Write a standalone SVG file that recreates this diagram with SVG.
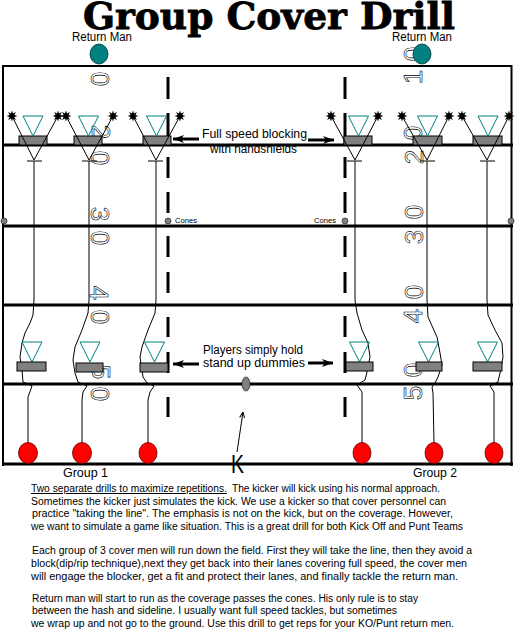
<svg xmlns="http://www.w3.org/2000/svg" width="515" height="631" viewBox="0 0 515 631">
<style>
.fl{stroke:#000;stroke-width:3;fill:none}
.fo{stroke:#000;stroke-width:2;fill:none}
.ln{stroke:#000;stroke-width:1;fill:none}
.tri{fill:none;stroke:#008080;stroke-width:1}
.blk{fill:#808080;stroke:#000;stroke-width:1}
.red{fill:#ff0000;stroke:#600;stroke-width:0.8}
.teal{fill:#008080;stroke:#033;stroke-width:0.8}
.cone{fill:#808080;stroke:#333;stroke-width:0.8}
.num{font-family:"Liberation Sans",Arial,sans-serif;font-size:26px;fill:#fff;stroke:#000;stroke-width:0.6;text-anchor:middle;dominant-baseline:central}
.lab{font-family:"Liberation Sans",Arial,sans-serif;font-size:12px;fill:#000}
.p{font-family:"Liberation Sans",Arial,sans-serif;font-size:10px;fill:#000}
.dash{stroke:#000;stroke-width:3;fill:none}
.arr{stroke:#000;stroke-width:3;marker-end:url(#ah)}
</style>
<defs>
<marker id="ah" viewBox="0 0 11 8" refX="11" refY="4" markerWidth="11" markerHeight="8" markerUnits="userSpaceOnUse" orient="auto"><path d="M0,0 L11,4 L0,8 L3,4 Z" fill="#000"/></marker>
<marker id="ka" viewBox="0 0 6 6" refX="6" refY="3" markerWidth="6" markerHeight="6" markerUnits="userSpaceOnUse" orient="auto"><path d="M0,0.5 L6,3 L0,5.5" fill="none" stroke="#000" stroke-width="1"/></marker>
<polygon id="star" points="5.5,0 2.4,1 3.9,3.9 1,2.4 0,5.5 -1,2.4 -3.9,3.9 -2.4,1 -5.5,0 -2.4,-1 -3.9,-3.9 -1,-2.4 0,-5.5 1,-2.4 3.9,-3.9 2.4,-1" fill="#000"/>
</defs>
<rect width="515" height="631" fill="#fff"/>

<text x="83" y="29" font-family="DejaVu Serif, Liberation Serif, serif" font-weight="bold" font-size="37" stroke="#000" stroke-width="0.8" textLength="372" lengthAdjust="spacingAndGlyphs">Group Cover Drill</text>

<g id="field">
<path class="fo" d="M3,66 H512 M3,65 V466 M511.5,65 V466"/>
<path class="fl" d="M2,145 H513 M2,226 H513 M2,305 H513 M2,384 H513 M2,464 H513"/>
<path class="dash" d="M168,77 V99 M168,113 V137 M168,157 V178 M168,192 V213 M168,236 V257 M168,272 V293 M168,317 V337 M168,352 V373 M168,397 V417"/>
<path class="dash" d="M345,77 V99 M345,113 V145 M345,157 V178 M345,192 V213 M345,236 V257 M345,272 V293 M345,316 V337 M345,352 V373 M345,397 V417"/>
</g>

<g id="yard-numbers">
<text class="num" transform="translate(100,79) rotate(90)">0</text>
<text class="num" transform="translate(101,132) rotate(90)">2</text>
<text class="num" transform="translate(100,158) rotate(90)">0</text>
<text class="num" transform="translate(100,214) rotate(90)">3</text>
<text class="num" transform="translate(100,238) rotate(90)">0</text>
<text class="num" transform="translate(99,293) rotate(90)">4</text>
<text class="num" transform="translate(100,317) rotate(90)">0</text>
<text class="num" transform="translate(101,372) rotate(90)">5</text>
<text class="num" transform="translate(100,394) rotate(90)">0</text>
<text class="num" transform="translate(413,54) rotate(-90)">0</text>
<text class="num" transform="translate(413,77) rotate(-90)">1</text>
<text class="num" transform="translate(413,133) rotate(-90)">0</text>
<text class="num" transform="translate(414,157) rotate(-90)">2</text>
<text class="num" transform="translate(414,212) rotate(-90)">0</text>
<text class="num" transform="translate(414,237) rotate(-90)">3</text>
<text class="num" transform="translate(414,292) rotate(-90)">0</text>
<text class="num" transform="translate(413,316) rotate(-90)">4</text>
<text class="num" transform="translate(413,370) rotate(-90)">0</text>
<text class="num" transform="translate(413,393) rotate(-90)">5</text>
</g>

<g id="connectors">
<path class="ln" d="M34,161 L34,300 L33,315 L30,323 L25,333 L22,343 L20,357 L22,370 L23,382 L32,386 L28,397 L28,443"/>
<path class="ln" d="M89,161 L89,300 L88,313 L82,330 L75,347 L73,360 L75,373 L78,382 L87,386 L83,392 L82,400 L82,443"/>
<path class="ln" d="M156,161 L156,300 L155,313 L148,330 L142,347 L140,357 L143,377 L147,383 L154,386 L150,392 L148,400 L148,443"/>
<path class="ln" d="M355,161 L355,300 L357,313 L362,330 L368,343 L370,357 L367,372 L365,380 L357,385 L362,392 L362,443"/>
<path class="ln" d="M427,161 L427,300 L428,317 L437,337 L440,353 L442,365 L438,377 L435,383 L432,387 L433,393 L434,443"/>
<path class="ln" d="M487,161 L487,300 L488,315 L495,330 L502,343 L503,357 L500,373 L498,382 L490,386 L494,392 L494,443"/>
<line class="arr" x1="199" y1="139" x2="173" y2="139"/>
<line class="arr" x1="308" y1="140" x2="334" y2="140"/>
<line class="arr" x1="199" y1="364" x2="173" y2="364"/>
<line class="arr" x1="308" y1="363" x2="333" y2="363"/>
<line class="ln" x1="237" y1="452" x2="243" y2="412" marker-end="url(#ka)"/>
</g>

<g id="return-man-1"><text class="lab" x="102" y="41" text-anchor="middle" textLength="60" lengthAdjust="spacingAndGlyphs">Return Man</text><ellipse class="teal" cx="99" cy="54" rx="9" ry="10"/></g>
<g id="return-man-2"><text class="lab" x="422" y="41" text-anchor="middle" textLength="60" lengthAdjust="spacingAndGlyphs">Return Man</text><ellipse class="teal" cx="422" cy="54" rx="9" ry="10"/></g>

<g id="blocker-top-1"><rect class="blk" x="19" y="136" width="28" height="9"/><polygon class="tri" points="23,116 43,116 33,136"/><path class="ln" d="M12,116 L34,160 L58,116 M27,161 H42"/><use href="#star" x="12" y="116"/><use href="#star" x="58" y="116"/></g>
<g id="blocker-top-2"><rect class="blk" x="74" y="136" width="28" height="9"/><polygon class="tri" points="78.5,116 98.5,116 88.5,136"/><path class="ln" d="M66,116 L89,160 L113,116 M82,161 H97"/><use href="#star" x="66" y="116"/><use href="#star" x="113" y="116"/></g>
<g id="blocker-top-3"><rect class="blk" x="143" y="136" width="28" height="9"/><polygon class="tri" points="146.5,116 166.5,116 156.5,136"/><path class="ln" d="M133,116 L156,160 L180,116 M148,161 H163"/><use href="#star" x="133" y="116"/><use href="#star" x="180" y="116"/></g>
<g id="blocker-top-4"><rect class="blk" x="344" y="136" width="28" height="9"/><polygon class="tri" points="348.5,116 368.5,116 358.5,136"/><path class="ln" d="M331,116 L355,160 L378,116 M347,161 H362"/><use href="#star" x="331" y="116"/><use href="#star" x="378" y="116"/></g>
<g id="blocker-top-5"><rect class="blk" x="413" y="136" width="29" height="9"/><polygon class="tri" points="417.5,116 437.5,116 427.5,136"/><path class="ln" d="M402,116 L427,160 L449,116 M420,161 H435"/><use href="#star" x="402" y="116"/><use href="#star" x="449" y="116"/></g>
<g id="blocker-top-6"><rect class="blk" x="473" y="136" width="29" height="9"/><polygon class="tri" points="478,116 498,116 488,136"/><path class="ln" d="M462,116 L487,160 L509,116 M480,161 H495"/><use href="#star" x="462" y="116"/><use href="#star" x="509" y="116"/></g>

<g id="dummy-1"><polygon class="tri" points="22,342 42,342 32,362"/><rect class="blk" x="17" y="362" width="29" height="9"/></g>
<g id="dummy-2"><polygon class="tri" points="80,342 100,342 90,362"/><rect class="blk" x="76" y="363" width="27" height="9"/></g>
<g id="dummy-3"><polygon class="tri" points="144.5,342 164.5,342 154.5,362"/><rect class="blk" x="140" y="363" width="28" height="9"/></g>
<g id="dummy-4"><polygon class="tri" points="349.5,342 369.5,342 359.5,362"/><rect class="blk" x="346" y="362" width="27" height="9"/></g>
<g id="dummy-5"><polygon class="tri" points="418.5,342 438.5,342 428.5,362"/><rect class="blk" x="416" y="362" width="26" height="9"/></g>
<g id="dummy-6"><polygon class="tri" points="477.5,342 497.5,342 487.5,362"/><rect class="blk" x="473" y="362" width="29" height="9"/></g>

<g id="cones">
<circle class="cone" cx="4" cy="221" r="3"/>
<circle class="cone" cx="168" cy="221" r="3"/>
<circle class="cone" cx="345" cy="221" r="3"/>
<circle class="cone" cx="511" cy="221" r="3"/>
<text x="175" y="223" font-family="Liberation Sans, Arial, sans-serif" font-size="7.5" textLength="22" lengthAdjust="spacingAndGlyphs">Cones</text>
<text x="314" y="223" font-family="Liberation Sans, Arial, sans-serif" font-size="7.5" textLength="22" lengthAdjust="spacingAndGlyphs">Cones</text>
</g>

<g id="cover-1"><ellipse class="red" cx="28" cy="453" rx="9.5" ry="10.5"/></g>
<g id="cover-2"><ellipse class="red" cx="82" cy="453" rx="9.5" ry="10.5"/></g>
<g id="cover-3"><ellipse class="red" cx="148" cy="453" rx="9" ry="10.5"/></g>
<g id="cover-4"><ellipse class="red" cx="362" cy="453" rx="9" ry="10.5"/></g>
<g id="cover-5"><ellipse class="red" cx="434" cy="453" rx="9" ry="10.5"/></g>
<g id="cover-6"><ellipse class="red" cx="494" cy="453" rx="9" ry="10.5"/></g>

<g id="kicker"><ellipse class="cone" cx="246" cy="384" rx="4" ry="7"/><text x="231" y="473" font-family="Liberation Sans, Arial, sans-serif" font-size="26" textLength="13" lengthAdjust="spacingAndGlyphs">K</text></g>

<g id="labels">
<text class="lab" x="202" y="138" textLength="105" lengthAdjust="spacingAndGlyphs">Full speed blocking</text>
<text class="lab" x="210" y="153" textLength="87" lengthAdjust="spacingAndGlyphs">with handshields</text>
<text class="lab" x="203" y="354" font-size="11.5" textLength="100" lengthAdjust="spacingAndGlyphs">Players simply hold</text>
<text class="lab" x="203" y="367" font-size="11.5" textLength="102" lengthAdjust="spacingAndGlyphs">stand up dummies</text>
<text class="lab" x="63" y="477" font-size="12.5" textLength="45" lengthAdjust="spacingAndGlyphs">Group 1</text>
<text class="lab" x="413" y="477" font-size="12.5" textLength="44" lengthAdjust="spacingAndGlyphs">Group 2</text>
</g>

<g id="notes">
<text class="p" x="31" y="492" textLength="196" lengthAdjust="spacingAndGlyphs" text-decoration="underline">Two separate drills to maximize repetitions.</text>
<text class="p" x="232" y="492" textLength="208" lengthAdjust="spacingAndGlyphs">The kicker will kick using his normal approach.</text>
<text class="p" x="31" y="505" textLength="415" lengthAdjust="spacingAndGlyphs">Sometimes the kicker just simulates the kick.   We use a kicker so that cover personnel can</text>
<text class="p" x="32" y="517" textLength="421" lengthAdjust="spacingAndGlyphs">practice "taking the line".    The emphasis is not on the kick, but on the coverage.  However,</text>
<text class="p" x="31" y="530" textLength="432" lengthAdjust="spacingAndGlyphs">we want to simulate a game like situation.  This is a great drill for both Kick Off and Punt Teams</text>
<text class="p" x="32" y="554" textLength="440" lengthAdjust="spacingAndGlyphs">Each group of 3 cover men will run down the field.  First they will take the line, then they avoid a</text>
<text class="p" x="31" y="567" textLength="436" lengthAdjust="spacingAndGlyphs">block(dip/rip technique),next they get back into their lanes covering full speed, the cover men</text>
<text class="p" x="31" y="580" textLength="427" lengthAdjust="spacingAndGlyphs">will engage the blocker, get a fit and protect their lanes, and finally tackle the return man.</text>
<text class="p" x="32" y="602" textLength="386" lengthAdjust="spacingAndGlyphs">Return man will start to run as the coverage passes the cones.  His only rule is to stay</text>
<text class="p" x="32" y="614" textLength="365" lengthAdjust="spacingAndGlyphs">between the hash and sideline.  I usually want full speed tackles, but sometimes</text>
<text class="p" x="31" y="627" textLength="423" lengthAdjust="spacingAndGlyphs">we wrap up and not go to the ground.  Use this drill to get reps for your KO/Punt return men.</text>
</g>
</svg>
